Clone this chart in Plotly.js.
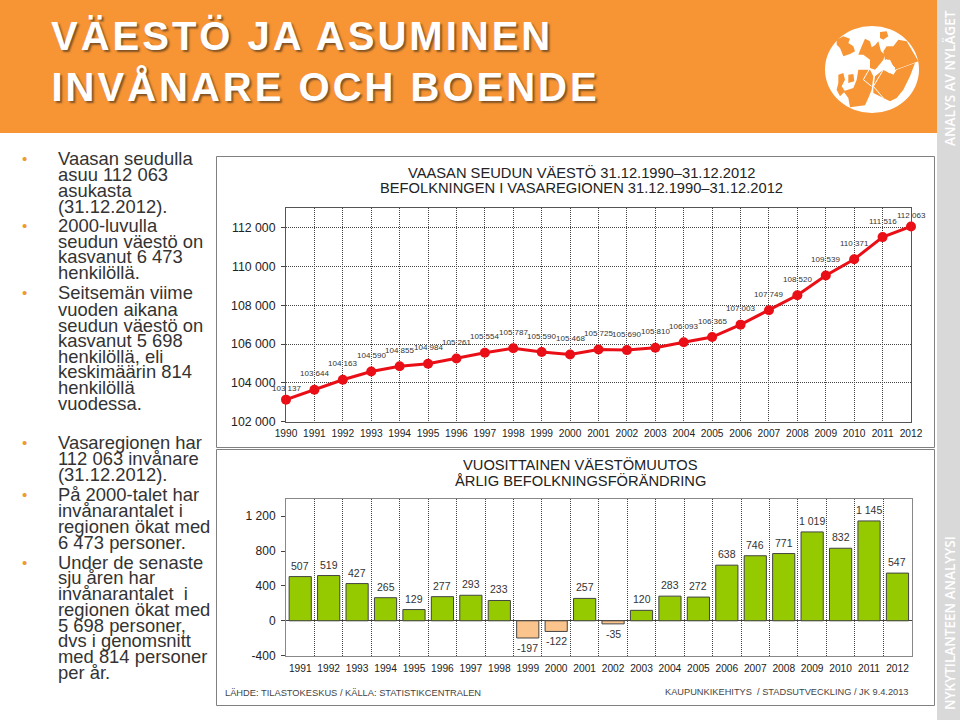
<!DOCTYPE html>
<html><head><meta charset="utf-8">
<script src="https://cdn.plot.ly/plotly-3.0.0.min.js"></script>
<style>html,body{margin:0;padding:0;background:#fff}#c{width:960px;height:720px}
g.annotation[data-index="0"] text,g.annotation[data-index="1"] text{letter-spacing:3px}</style></head>
<body><div id="c"></div>
<script>
const popYears=[1990,1991,1992,1993,1994,1995,1996,1997,1998,1999,2000,2001,2002,2003,2004,2005,2006,2007,2008,2009,2010,2011,2012];
const population=[103137,103644,104163,104590,104855,104984,105261,105554,105787,105590,105468,105725,105690,105810,106093,106365,107003,107749,108520,109539,110371,111516,112063];
const changeYears=['1991','1992','1993','1994','1995','1996','1997','1998','1999','2000','2001','2002','2003','2004','2005','2006','2007','2008','2009','2010','2011','2012'];
const change=[507,519,427,265,129,277,293,233,-197,-122,257,-35,120,283,272,638,746,771,1019,832,1145,547];
const popTicks=[102000,104000,106000,108000,110000,112000];
const changeTicks=[-400,0,400,800,1200];
const bodyLines=[
['Vaasan seudulla',159,1],['asuu 112 063',175],['asukasta',191],['(31.12.2012).',207],
['2000-luvulla',226,1],['seudun väestö on',242],['kasvanut 6 473',257],['henkilöllä.',273],
['Seitsemän viime',293,1],['vuoden aikana',310],['seudun väestö on',326],['kasvanut 5 698',341],['henkilöllä, eli',357],['keskimäärin 814',372],['henkilöllä',388],['vuodessa.',404],
['Vasaregionen har',443,1],['112 063 invånare',459],['(31.12.2012).',475],
['På 2000-talet har',495,1],['invånarantalet i',511],['regionen ökat med',527],['6 473 personer.',543],
['Under de senaste',563,1],['sju åren har',578],['invånarantalet  i',594],['regionen ökat med',610],['5 698 personer,',626],['dvs i genomsnitt',641],['med 814 personer',657],['per år.',673]];

const fmt=v=>{const s=String(Math.abs(v));const t=s.length>3?s.slice(0,-3)+' '+s.slice(-3):s;return (v<0?'-':'')+t;};
const W=960,H=720,FF='"Liberation Sans",Arial,sans-serif';
const fx=x=>x/W, fy=y=>1-y/H;
const rect=(x0,y0,x1,y1,fill,line)=>({type:'rect',xref:'paper',yref:'paper',layer:'below',x0:fx(x0),x1:fx(x1),y0:fy(y0),y1:fy(y1),fillcolor:fill,line:line?{color:line,width:1}:{width:0}});
const lp=p=>fx(815+p[0]/3)+','+fy(18+p[1]/3);
const poly=(pts,fill)=>({type:'path',xref:'paper',yref:'paper',layer:'below',fillcolor:fill,line:{width:0},path:'M'+pts.map(lp).join('L')+'Z'});
const stroke=(pts,col)=>({type:'path',xref:'paper',yref:'paper',layer:'below',line:{color:col,width:1},path:'M'+pts.map(lp).join('L')});
const label=(t,x,y,size,color,opt)=>Object.assign({text:t,xref:'paper',yref:'paper',x:fx(x),y:fy(y),xanchor:'left',yanchor:'middle',showarrow:false,borderpad:0,
  font:{family:FF,size:size,color:color}},opt||{});
const ORANGE='#F79535';
const titleFont={family:FF,size:40,color:'#fff',weight:700,shadow:'2px 2px 2px rgba(90,60,30,.75)'};
const sideFont={family:'"Open Sans",sans-serif',size:13.5,color:'#fff',weight:600};
const shapes=[
 rect(0,0,937,133,ORANGE),
 rect(937,0,960,720,'#D9D9D9'),
 rect(216.5,156.5,934.5,447.5,'#fff','#808080'),
 rect(216.5,449.5,934.5,705.5,'#fff','#808080'),
 {type:'circle',xref:'paper',yref:'paper',layer:'below',x0:fx(825),x1:fx(919),y0:fy(26),y1:fy(113),fillcolor:'#fff',line:{width:0}},
 poly([[65,65],[85,55],[105,62],[100,75],[115,85],[120,100],[105,108],[85,115],[75,90],[65,80]],ORANGE),
 poly([[130,110],[140,85],[150,62],[165,70],[170,88],[180,82],[190,70],[198,100],[210,110],[205,125],[190,145],[180,155],[165,150],[165,125],[145,110]],ORANGE),
 poly([[195,42],[215,40],[220,55],[205,65],[195,60]],ORANGE),
 poly([[250,65],[275,70],[310,130],[270,145],[240,155],[225,125],[210,125],[205,100],[215,85],[235,85]],ORANGE),
 poly([[175,210],[180,175],[205,155],[215,160],[235,170],[245,155],[300,135],[285,175],[265,215],[245,240],[225,250],[205,240],[175,225]],ORANGE),
 poly([[130,155],[165,155],[175,175],[170,215],[160,240],[150,262],[105,268],[100,240],[85,220],[115,210],[125,185]],ORANGE),
 poly([[70,170],[85,165],[90,185],[80,205],[90,220],[75,235],[65,215],[70,195]],ORANGE),
 poly([[100,170],[115,168],[118,190],[100,195]],ORANGE),
 stroke([[190,145],[215,125],[240,150],[225,165],[190,145]],'#fff'),
 stroke([[130,140],[165,150],[145,185],[170,205]],'#fff'),
 stroke([[205,155],[175,205],[205,240]],'#fff')
];
const ann=[
 label('VÄESTÖ JA ASUMINEN',302,36,40,'#fff',{font:titleFont,xanchor:'center'}),
 label('INVÅNARE OCH BOENDE',325,87,40,'#fff',{font:titleFont,xanchor:'center'}),
 label('ANALYS AV NYLÄGET',950,78,13.5,'#fff',{textangle:-90,xanchor:'center',font:sideFont}),
 label('NYKYTILANTEEN ANALYYSI',950,623,13.5,'#fff',{textangle:-90,xanchor:'center',font:sideFont}),
 label('VAASAN SEUDUN VÄESTÖ 31.12.1990–31.12.2012',581.5,172,14.7,'#222',{xanchor:'center'}),
 label('BEFOLKNINGEN I VASAREGIONEN 31.12.1990–31.12.2012',581.5,188,14.7,'#222',{xanchor:'center'}),
 label('VUOSITTAINEN VÄESTÖMUUTOS',580.5,464,14.7,'#222',{xanchor:'center'}),
 label('ÅRLIG BEFOLKNINGSFÖRÄNDRING',580,481,14.7,'#222',{xanchor:'center'}),
 label('LÄHDE: TILASTOKESKUS / KÄLLA: STATISTIKCENTRALEN',224,693,9.3,'#444'),
 label('KAUPUNKIKEHITYS  / STADSUTVECKLING / JK 9.4.2013',664,692,9.25,'#444')
];
bodyLines.forEach(l=>{
  ann.push(label(l[0],57,l[1]-0.7,18.4,'#333'));
  if(l[2]) ann.push(label('•',21,l[1]-1,15,'#EE9A2E'));
});
population.forEach((v,i)=>ann.push({xref:'x',yref:'y',x:popYears[i],y:v,text:fmt(v),showarrow:false,borderpad:0,
  yshift:(i===0||i===population.length-1)?11:16,font:{family:FF,size:8,color:'#333'}}));
change.forEach((v,i)=>ann.push({xref:'x2',yref:'y2',x:i,y:v,text:fmt(v),showarrow:false,borderpad:0,
  yshift:v<0?-10:11,font:{family:FF,size:10.5,color:'#333'}}));
const data=[
 {type:'scatter',mode:'lines+markers',x:popYears,y:population,xaxis:'x',yaxis:'y',cliponaxis:false,
  line:{color:'#EA0F16',width:3},marker:{color:'#EA0F16',size:10},hoverinfo:'x+y'},
 {type:'bar',x:changeYears,y:change,xaxis:'x2',yaxis:'y2',cliponaxis:false,
  marker:{color:change.map(v=>v<0?'#FBC48C':'#95C900'),line:{color:'#444',width:1}},hoverinfo:'x+y'}
];
const grid={showgrid:true,gridcolor:'#444',griddash:'1px,1px',gridwidth:1};
const layout={width:W,height:H,margin:{l:0,r:0,t:0,b:0},paper_bgcolor:'#fff',plot_bgcolor:'rgba(0,0,0,0)',showlegend:false,bargap:0.22,
 font:{family:FF},shapes:shapes,annotations:ann,
 xaxis:Object.assign({domain:[fx(286),fx(911)],anchor:'y',type:'linear',range:[1990,2012],tickmode:'array',tickvals:popYears,ticktext:popYears.map(String),tickangle:0,
  showline:true,linecolor:'#555',linewidth:1,mirror:true,ticks:'',zeroline:false,ticklabelstandoff:2,
  tickfont:{family:FF,size:10.2,color:'#222'}},grid),
 yaxis:Object.assign({domain:[fy(421.7),fy(208.3)],anchor:'x',range:[102000,113000],tickmode:'array',tickvals:popTicks,ticktext:popTicks.map(fmt),
  showline:true,linecolor:'#555',linewidth:1,mirror:true,ticks:'outside',ticklen:4,tickcolor:'#444',zeroline:false,ticklabelstandoff:3,
  tickfont:{family:FF,size:12.3,color:'#222'}},grid),
 xaxis2:Object.assign({domain:[fx(286),fx(911.7)],anchor:'y2',type:'category',categoryorder:'array',categoryarray:changeYears,range:[-0.5,21.5],tickson:'boundaries',tickangle:0,
  showline:true,linecolor:'#888',linewidth:1,mirror:true,ticks:'',ticklen:0,zeroline:false,ticklabelstandoff:3,
  tickfont:{family:FF,size:10.2,color:'#222'}},grid),
 yaxis2:{domain:[fy(655.7),fy(498.7)],anchor:'x2',range:[-400,1400],tickmode:'array',tickvals:changeTicks,ticktext:changeTicks.map(fmt),
  showgrid:false,showline:true,linecolor:'#888',linewidth:1,mirror:true,ticks:'outside',ticklen:4,tickcolor:'#444',zeroline:true,zerolinecolor:'#444',zerolinewidth:1,ticklabelstandoff:3,
  tickfont:{family:FF,size:12,color:'#222'}}
};
Plotly.newPlot('c',data,layout,{displayModeBar:false});
</script></body></html>
